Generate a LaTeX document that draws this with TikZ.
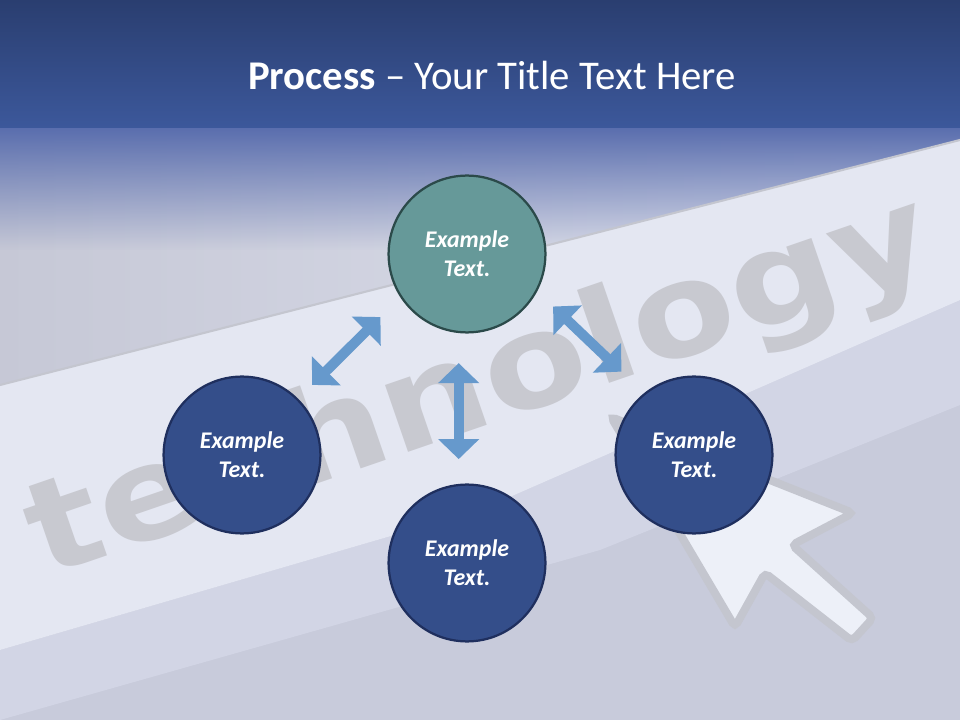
\documentclass[tikz,border=0pt]{standalone}
\usepackage{fontspec}
\setmainfont{Carlito}
\newfontfamily\wordfont{DejaVu Sans}
\usetikzlibrary{arrows.meta,positioning,calc,shapes,fadings}
\usepackage{xcolor}

\definecolor{barTop}{HTML}{2A3E70}
\definecolor{barBottom}{HTML}{3C589B}
\definecolor{fadeTop}{HTML}{5A6EAE}
\definecolor{slideBg}{HTML}{C6C8D6}
\definecolor{slideLight}{HTML}{E0E3F0}
\definecolor{bandFill}{HTML}{E4E7F2}
\definecolor{stripFill}{HTML}{D2D5E5}
\definecolor{lowFill}{HTML}{C8CBDB}
\definecolor{wordGray}{HTML}{C8C9D0}
\definecolor{cursorLine}{HTML}{C4C6CF}
\definecolor{cursorFill}{HTML}{EDF0F8}
\definecolor{tealFill}{HTML}{669999}
\definecolor{tealLine}{HTML}{2B4A4A}
\definecolor{navyFill}{HTML}{344E8A}
\definecolor{navyLine}{HTML}{1F2F5E}
\definecolor{linkBlue}{HTML}{6699CC}

\begin{document}
\begin{tikzpicture}[x=0.025cm, y=-0.025cm,
    stepcircle/.style={circle, draw=navyLine, line width=1.6pt, fill=navyFill, minimum size=3.92cm, inner sep=0pt, text=white, align=center, font=\fontsize{17}{20.6}\selectfont\bfseries\itshape},
    linkarrow/.style={draw=linkBlue, line width=0.25cm, {Triangle[width=1cm,length=0.5cm]}-{Triangle[width=1cm,length=0.5cm]}}]
            \useasboundingbox (0,0) rectangle (960,720);

            % Background
            \shade[left color=slideBg, right color=slideLight] (0,0) rectangle (960,720);
            \fill[fadeTop, path fading=south] (0,128) rectangle (960,250);
            \fill[lowFill] (0,650) -- (480,510) -- (960,300) -- (960,720) -- (0,720) -- cycle;
            \fill[stripFill] (0,650) -- (480,510) -- (960,300) -- (960,405) -- (600,550) -- (0,720) -- cycle;
            \fill[bandFill] (0,385) -- (960,140) -- (960,300) -- (480,510) -- (0,650) -- cycle;
            \draw[cursorLine, line width=1.5pt] (0,385) -- (960,140);
            \node[text=wordGray, rotate=19, font=\wordfont\bfseries\fontsize{92}{92}\selectfont] (word) at (481,390) {\scalebox{1.17}[1]{technology}};
            \filldraw[fill=cursorFill, draw=cursorLine, line width=0.2cm, rounded corners=0.12cm] (611,417) -- (853,513) -- (792,545) -- (873,618) -- (852,641) -- (765,573) -- (735,627) -- cycle;
            \shade[top color=barTop, bottom color=barBottom] (0,0) rectangle (960,128);

            % Title
            \node[text=white, font=\fontsize{29}{35}\selectfont] (title) at (492,75) {\textbf{Process} -- Your Title Text Here};

            % Circles
            \node[stepcircle, fill=tealFill, draw=tealLine] (top) at (467,254) {Example\\Text.};
            \node[stepcircle] (left) at (242,455) {Example\\Text.};
            \node[stepcircle] (right) at (694,455) {Example\\Text.};
            \node[stepcircle] (bottom) at (467,563) {Example\\Text.};

            % Arrows
            \draw[linkarrow, shorten <=0.49cm, shorten >=0.7cm] (left.45) -- (top.213);
            \draw[linkarrow, shorten <=0.55cm, shorten >=0.78cm] (top.-28) -- (right.129);
            \draw[linkarrow, shorten <=0.75cm, shorten >=0.62cm] (top.264) -- (bottom.96);
\end{tikzpicture}
\end{document}
